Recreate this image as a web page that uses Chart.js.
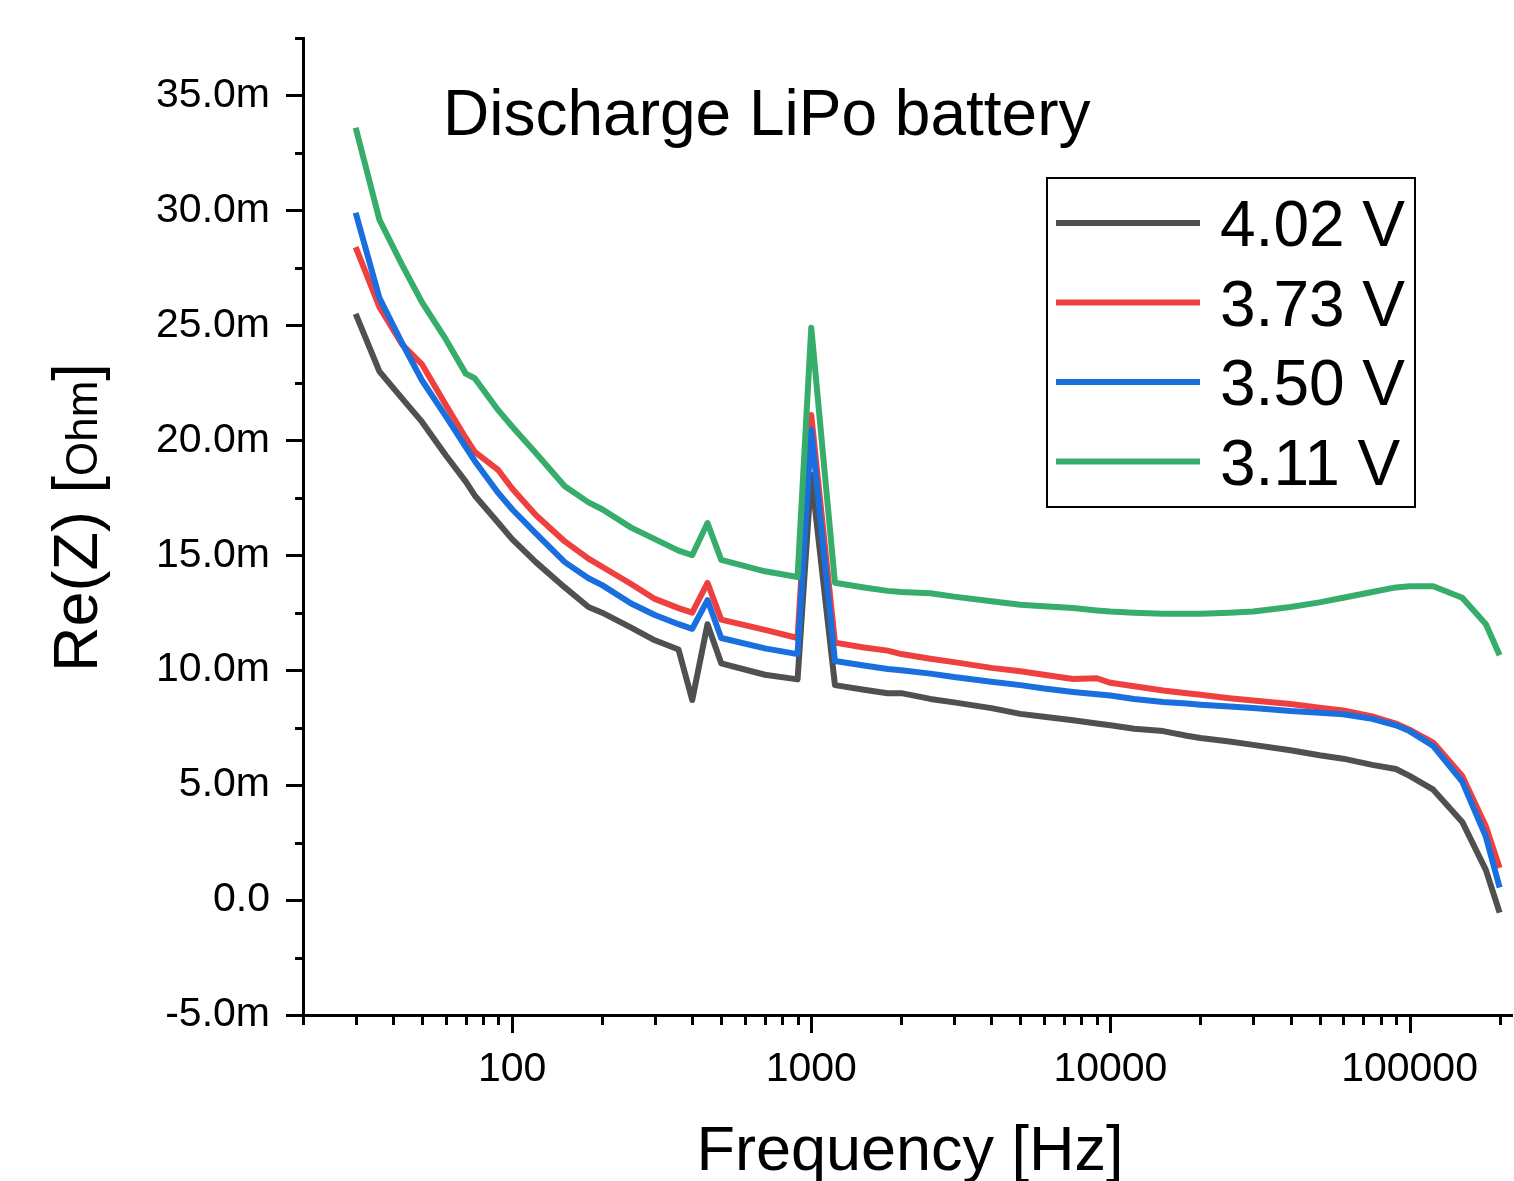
<!DOCTYPE html>
<html>
<head>
<meta charset="utf-8">
<title>Discharge LiPo battery</title>
<script src="https://cdn.jsdelivr.net/npm/chart.js@4/dist/chart.umd.min.js"></script>
<style>
  html, body { margin: 0; padding: 0; background: #fff; }
  #wrap { width: 1514px; height: 1181px; }
</style>
</head>
<body>
<div id="wrap"><canvas id="myChart" width="1514" height="1181"></canvas></div>
<script>
// Frequencies in Hz (shared by all curves)
const freqs = [30, 36, 43, 50, 60, 70, 75, 90, 100, 120, 150, 180, 200, 250, 300, 360, 400, 450, 500, 700,
  900, 1000, 1200, 1500, 1800, 2000, 2500, 3000, 4000, 5000, 6000, 7500, 9000, 10000, 12000, 15000, 18000,
  20000, 25000, 30000, 40000, 50000, 60000, 75000, 90000, 100000, 120000, 150000, 180000, 200000];

// Re(Z) in milli-Ohm
const re402 = [25.5, 23.0, 21.8, 20.8, 19.35, 18.2, 17.6, 16.4, 15.7, 14.7, 13.6, 12.75, 12.5, 11.85, 11.3, 10.9, 8.7, 12.0, 10.3, 9.8,
  9.6, 18.5, 9.35, 9.15, 9.0, 9.0, 8.75, 8.6, 8.35, 8.1, 7.97, 7.82, 7.68, 7.6, 7.45, 7.35, 7.15,
  7.05, 6.9, 6.75, 6.52, 6.3, 6.15, 5.88, 5.7, 5.4, 4.8, 3.4, 1.3, -0.55];
const re373 = [28.4, 25.8, 24.15, 23.3, 21.55, 20.1, 19.5, 18.7, 17.9, 16.75, 15.6, 14.85, 14.5, 13.75, 13.1, 12.7, 12.5, 13.8, 12.2, 11.75,
  11.4, 21.1, 11.2, 10.99, 10.85, 10.7, 10.5, 10.35, 10.1, 9.95, 9.8, 9.62, 9.65, 9.45, 9.3, 9.12, 9.0,
  8.93, 8.78, 8.68, 8.53, 8.37, 8.25, 7.99, 7.68, 7.41, 6.85, 5.4, 3.2, 1.4];
const re350 = [29.9, 26.2, 24.2, 22.6, 21.05, 19.7, 19.1, 17.7, 17.0, 15.95, 14.7, 14.0, 13.7, 12.9, 12.4, 12.0, 11.8, 13.05, 11.4, 10.95,
  10.7, 20.45, 10.4, 10.2, 10.05, 10.0, 9.85, 9.7, 9.5, 9.35, 9.2, 9.05, 8.95, 8.9, 8.75, 8.62, 8.55,
  8.5, 8.42, 8.35, 8.22, 8.15, 8.08, 7.88, 7.6, 7.35, 6.7, 5.15, 2.75, 0.55];
const re311 = [33.6, 29.6, 27.6, 26.0, 24.4, 22.9, 22.7, 21.3, 20.6, 19.45, 18.0, 17.3, 17.0, 16.2, 15.7, 15.2, 15.0, 16.4, 14.8, 14.3,
  14.05, 24.9, 13.8, 13.6, 13.45, 13.4, 13.35, 13.2, 13.0, 12.85, 12.78, 12.7, 12.6, 12.55, 12.5, 12.45, 12.45,
  12.45, 12.5, 12.55, 12.75, 12.95, 13.15, 13.4, 13.6, 13.65, 13.65, 13.15, 12.0, 10.65];

const seriesLabels = ["4.02 V", "3.73 V", "3.50 V", "3.11 V"];
const seriesValues = [re402, re373, re350, re311];
const seriesColors = ["#505050", "#ef4040", "#1a6fdf", "#37ad6b"];

const FONT = "'Liberation Sans', Arial, Helvetica, sans-serif";

function toPoints(values) {
  return freqs.map((f, i) => ({ x: f, y: values[i] }));
}

const datasets = seriesValues.map((vals, i) => ({
  label: seriesLabels[i],
  data: toPoints(vals),
  borderColor: seriesColors[i],
  backgroundColor: seriesColors[i],
  borderWidth: 6,
  borderJoinStyle: "round",
  pointRadius: 0,
  tension: 0,
  fill: false,
  order: 4 - i, // later series on top of earlier ones
}));

function isDecadeStep(v) {
  const p = Math.pow(10, Math.floor(Math.log10(v) + 1e-9));
  const r = v / p;
  return Math.abs(r - Math.round(r)) < 1e-6;
}
function isPow10(v) {
  const l = Math.log10(v);
  return Math.abs(l - Math.round(l)) < 1e-9;
}

// tick marks, title, y label and legend
const decorations = {
  id: "decorations",
  afterDraw(chart) {
    const ctx = chart.ctx;
    const xs = chart.scales.x;
    const ys = chart.scales.y;
    const area = chart.chartArea;
    ctx.save();
    ctx.strokeStyle = "#000";
    ctx.lineWidth = 3;
    ctx.lineCap = "butt";

    // y ticks (outside, left)
    ys.ticks.forEach((t) => {
      const y = Math.round(ys.getPixelForValue(t.value)) + 0.5;
      const major = Math.abs(t.value / 5 - Math.round(t.value / 5)) < 1e-9;
      const len = major ? 17 : 8;
      ctx.beginPath();
      ctx.moveTo(area.left - len, y);
      ctx.lineTo(area.left, y);
      ctx.stroke();
    });

    // x ticks (outside, below)
    xs.ticks.forEach((t) => {
      if (!isDecadeStep(t.value)) return;
      const x = Math.round(xs.getPixelForValue(t.value)) + 0.5;
      const len = isPow10(t.value) ? 18 : 10;
      ctx.beginPath();
      ctx.moveTo(x, area.bottom);
      ctx.lineTo(x, area.bottom + len);
      ctx.stroke();
    });

    ctx.fillStyle = "#000";

    // title inside the plot
    ctx.font = "64px " + FONT;
    ctx.textAlign = "left";
    ctx.textBaseline = "alphabetic";
    ctx.fillText("Discharge LiPo battery", 443, 135);

    // x axis title
    ctx.font = "63px " + FONT;
    ctx.textAlign = "center";
    ctx.fillText("Frequency [Hz]", 910, 1170);

    // y axis title with smaller unit
    ctx.save();
    ctx.translate(97, 672);
    ctx.rotate(-Math.PI / 2);
    ctx.textAlign = "left";
    let px = 0;
    const parts = [["Re(Z) [", 63], ["Ohm", 44], ["]", 63]];
    parts.forEach(([txt, size]) => {
      ctx.font = size + "px " + FONT;
      ctx.fillText(txt, px, 0);
      px += ctx.measureText(txt).width;
    });
    ctx.restore();

    // legend box
    ctx.lineWidth = 2;
    ctx.strokeRect(1047, 178, 368, 329);
    ctx.font = "64px " + FONT;
    ctx.textAlign = "left";
    chart.data.datasets.forEach((ds, i) => {
      const ly = 223 + i * 79.5;
      ctx.strokeStyle = ds.borderColor;
      ctx.lineWidth = 6;
      ctx.beginPath();
      ctx.moveTo(1056, ly);
      ctx.lineTo(1200, ly);
      ctx.stroke();
      ctx.fillStyle = "#000";
      ctx.fillText(ds.label, 1220, ly + 23);
    });
    ctx.restore();
  },
};

new Chart(document.getElementById("myChart").getContext("2d"), {
  type: "line",
  data: { datasets: datasets },
  options: {
    responsive: false,
    animation: false,
    devicePixelRatio: 1,
    layout: { padding: { top: 38, right: 2, left: 0, bottom: 0 } },
    plugins: {
      legend: { display: false },
      tooltip: { enabled: false },
      title: { display: false },
    },
    scales: {
      x: {
        type: "logarithmic",
        min: 20,
        max: 220000,
        afterFit: (s) => {
          s.height = 166;
          s.paddingLeft = 0;
          s.paddingRight = 0;
        },
        grid: { display: false, drawTicks: false },
        border: { display: true, color: "#000", width: 3 },
        ticks: {
          autoSkip: false,
          maxRotation: 0,
          padding: 30,
          color: "#000",
          font: { family: FONT, size: 41 },
          callback: (v) => (isPow10(v) && v >= 100 ? String(v) : ""),
        },
      },
      y: {
        type: "linear",
        min: -5,
        max: 37.5,
        afterFit: (s) => {
          s.width = 303;
          s.paddingTop = 0;
          s.paddingBottom = 0;
        },
        grid: { display: false, drawTicks: false },
        border: { display: true, color: "#000", width: 3 },
        ticks: {
          stepSize: 2.5,
          autoSkip: false,
          padding: 33,
          color: "#000",
          font: { family: FONT, size: 41 },
          callback: (v) => {
            if (Math.abs(v / 5 - Math.round(v / 5)) > 1e-9) return "";
            return v === 0 ? "0.0" : v.toFixed(1) + "m";
          },
        },
      },
    },
  },
  plugins: [decorations],
});
</script>
</body>
</html>
